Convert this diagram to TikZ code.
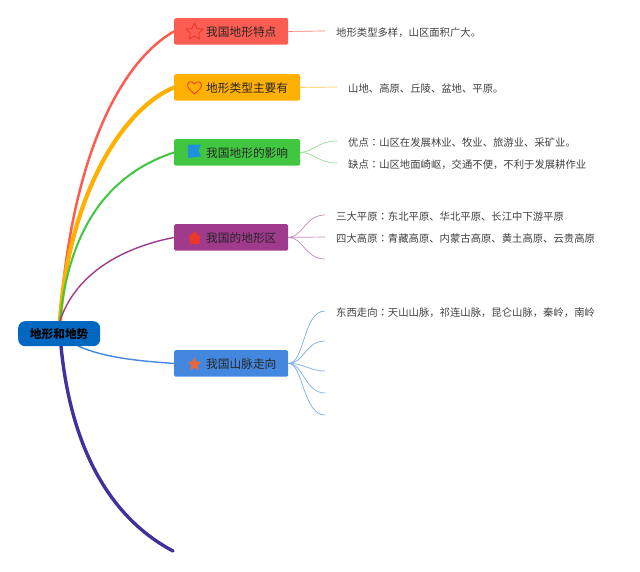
\documentclass[tikz,border=0pt]{standalone}
\usepackage{fontspec}
\setmainfont{Noto Sans CJK SC}
\newfontfamily\tcfont{Noto Sans CJK TC}
\newcommand{\cnt}{{\tcfont ：}}
\definecolor{cred}{HTML}{FC5D52}
\definecolor{corange}{HTML}{FFB000}
\definecolor{cgreen}{HTML}{41C63F}
\definecolor{cplum}{HTML}{A03A8C}
\definecolor{cblue}{HTML}{4388DE}
\definecolor{cindigo}{HTML}{44309A}
\definecolor{croot}{HTML}{0068C0}
\definecolor{iconred}{HTML}{E8382A}
\definecolor{iconblue}{HTML}{1E90DC}
\definecolor{iconorange}{HTML}{E8663C}
\tikzset{
  x=1pt,y=-1pt,
  topic/.style={draw=none,rounded corners=1.5pt,anchor=north west,minimum height=26.5pt,inner sep=0pt},
  topictext/.style={anchor=west,inner sep=0pt,font=\fontsize{11.7pt}{13pt}\selectfont,text=black!85},
  rootbox/.style={fill=croot,rounded corners=7pt,minimum width=82pt,minimum height=25pt,inner sep=0pt,anchor=north west,font=\fontsize{11.7pt}{13pt}\selectfont,text=black},
  leaf/.style={anchor=west,inner sep=0pt,font=\fontsize{10.35pt}{12pt}\selectfont,text=black!75},
  trunk/.style={line cap=round},
  twig/.style={line width=0.7pt},
}
\begin{document}
\begin{tikzpicture}
\useasboundingbox (0,0) rectangle (640,571);
% anchors on the root
\coordinate (rt) at (60,321);
\coordinate (rb) at (61,346);
\coordinate (rr) at (78,346);
\coordinate (end6) at (173,551);
% root and topics
\node[topic,fill=cred,minimum width=114pt] (t1) at (174,18) {};
\node[topic,fill=corange,minimum width=126pt] (t2) at (174,74) {};
\node[topic,fill=cgreen,minimum width=126pt] (t3) at (174,139) {};
\node[topic,fill=cplum,minimum width=114pt] (t4) at (174,224) {};
\node[topic,fill=cblue,minimum width=114pt] (t5) at (174,350) {};
% main branches
\draw[trunk,cred,line width=2.5pt] (rt) .. controls (70,170) and (115,65) .. (t1.west);
\draw[trunk,corange,line width=4.2pt] (rt) .. controls (68,200) and (120,110) .. (t2.west);
\draw[trunk,cgreen,line width=2pt] (rt) .. controls (70,215) and (120,170) .. (t3.west);
\draw[trunk,cplum,line width=1.4pt] (rt) .. controls (75,275) and (120,248) .. (t4.west);
\draw[trunk,cblue,line width=1.4pt] (rr) .. controls (105,358) and (140,361) .. (t5.west);
\draw[trunk,cindigo,line width=3.4pt] (rb) .. controls (70,440) and (105,515) .. (end6);
\node[rootbox] (root) at (18,321) {\textbf{地形和地势}};
\node[topictext] (l1) at (206,32) {我国地形特点};
\node[topictext] (l2) at (206,88) {地形类型主要有};
\node[topictext] (l3) at (206,153) {我国地形的影响};
\node[topictext] (l4) at (206,238) {我国的地形区};
\node[topictext] (l5) at (206,364) {我国山脉走向};
% leaf ends
\coordinate (c1) at (325,31);
\coordinate (c2) at (337,87);
\coordinate (c3a) at (337,141);
\coordinate (c3b) at (337,163);
\coordinate (c4a) at (325,215);
\coordinate (c4b) at (325,237);
\coordinate (c4c) at (325,259);
\coordinate (c5a) at (325,311);
\coordinate (c5b) at (325,341);
\coordinate (c5c) at (325,371);
\coordinate (c5d) at (325,393);
\coordinate (c5e) at (325,415);
% twigs
\draw[twig,cred!80] (t1.east) -- (c1);
\draw[twig,corange!70] (t2.east) -- (c2);
\draw[twig,cgreen!55] (t3.east) .. controls (313,152) and (318,141) .. (c3a);
\draw[twig,cgreen!55] (t3.east) .. controls (313,152) and (318,163) .. (c3b);
\draw[twig,cplum!60] (t4.east) .. controls (303,237) and (305,215) .. (c4a);
\draw[twig,cplum!60] (t4.east) -- (c4b);
\draw[twig,cplum!60] (t4.east) .. controls (303,237) and (305,259) .. (c4c);
\draw[twig,cblue!70] (t5.east) .. controls (305,363) and (303,311) .. (c5a);
\draw[twig,cblue!70] (t5.east) .. controls (305,363) and (305,341) .. (c5b);
\draw[twig,cblue!70] (t5.east) .. controls (303,363) and (310,371) .. (c5c);
\draw[twig,cblue!70] (t5.east) .. controls (303,363) and (305,393) .. (c5d);
\draw[twig,cblue!70] (t5.east) .. controls (303,363) and (303,415) .. (c5e);
% leaves
\node[leaf] (a1) at (336,32.8) {地形类型多样，山区面积广大。};
\node[leaf] (a2) at (348,88.8) {山地、高原、丘陵、盆地、平原。};
\node[leaf] (a3) at (348,142.8) {优点\cnt 山区在发展林业、牧业、旅游业、采矿业。};
\node[leaf] (a4) at (348,164.8) {缺点\cnt 山区地面崎岖，交通不便，不利于发展耕作业};
\node[leaf] (a5) at (336,216.8) {三大平原\cnt 东北平原、华北平原、长江中下游平原};
\node[leaf] (a6) at (336,238.8) {四大高原\cnt 青藏高原、内蒙古高原、黄土高原、云贵高原};
\node[leaf] (a7) at (336,312.8) {东西走向\cnt 天山山脉，祁连山脉，昆仑山脉，秦岭，南岭};
% icons
\draw[iconred,line width=0.8pt,line join=round] (194.5,23) -- (197,28.5) -- (203,29.2) -- (198.6,33.2) -- (199.8,39) -- (194.5,36) -- (189.2,39) -- (190.4,33.2) -- (186,29.2) -- (192,28.5) -- cycle;
\draw[iconred,line width=0.8pt,line join=round] (194.5,94) .. controls (190,90) and (187.5,88) .. (187.5,85) .. controls (187.5,81.5) and (192.5,80.5) .. (194.5,84) .. controls (196.5,80.5) and (201.5,81.5) .. (201.5,85) .. controls (201.5,88) and (199,90) .. (194.5,94) -- cycle;
\fill[iconblue] (188,144.5) -- (201,144.5) -- (198.5,150.5) -- (201,156.5) -- (188,158) -- cycle;
\fill[iconred] (194.5,231) -- (201,238) -- (199.5,238) -- (199.5,244) -- (189.5,244) -- (189.5,238) -- (188,238) -- cycle;
\fill[iconorange] (194.5,357) -- (196.6,361.5) -- (201,362) -- (197.8,365.3) -- (198.6,370) -- (194.5,367.8) -- (190.4,370) -- (191.2,365.3) -- (188,362) -- (192.4,361.5) -- cycle;
\end{tikzpicture}
\end{document}
